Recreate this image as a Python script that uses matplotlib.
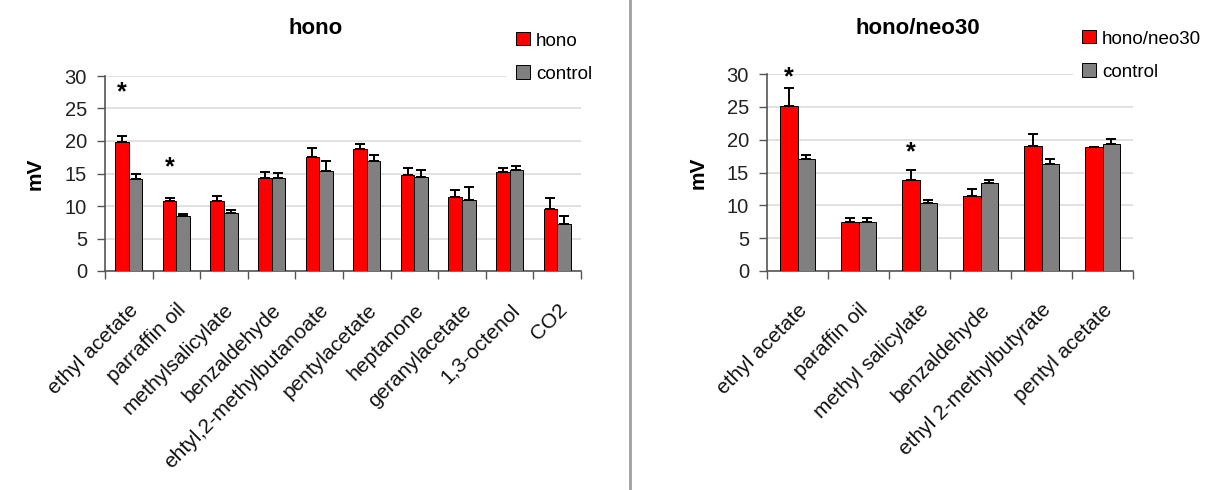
import matplotlib
matplotlib.use("Agg")
import matplotlib.pyplot as plt
import matplotlib.transforms as mtransforms
import numpy as np
from matplotlib.patches import Patch
from matplotlib.lines import Line2D

plt.rcParams['font.family'] = ['Liberation Sans', 'DejaVu Sans']

# Left panel: hono vs control
left_categories = ["ethyl acetate", "parraffin oil", "methylsalicylate", "benzaldehyde",
                   "ehtyl,2-methylbutanoate", "pentylacetate", "heptanone",
                   "geranylacetate", "1,3-octenol", "CO2"]
left_treat = [19.8, 10.8, 10.8, 14.3, 17.5, 18.7, 14.7, 11.4, 15.2, 9.5]
left_treat_err = [1.0, 0.5, 0.8, 1.0, 1.4, 0.9, 1.2, 1.1, 0.7, 1.8]
left_ctrl = [14.1, 8.4, 9.0, 14.3, 15.4, 17.0, 14.5, 11.0, 15.5, 7.2]
left_ctrl_err = [0.9, 0.4, 0.4, 0.8, 1.5, 0.8, 1.1, 1.9, 0.6, 1.3]
left_star_idx = [0, 1]
left_star_y = [27.5, 15.9]

# Right panel: hono/neo30 vs control
right_categories = ["ethyl acetate", "paraffin oil", "methyl salicylate", "benzaldehyde",
                    "ethyl 2-methylbutyrate", "pentyl acetate"]
right_treat = [25.2, 7.5, 13.8, 11.4, 19.1, 18.9]
right_treat_err = [2.6, 0.6, 1.6, 1.1, 1.7, 0.0]
right_ctrl = [17.0, 7.5, 10.3, 13.4, 16.3, 19.3]
right_ctrl_err = [0.6, 0.5, 0.5, 0.4, 0.8, 0.8]
right_star_idx = [0, 2]
right_star_y = [29.5, 18.0]

yticks = [0, 5, 10, 15, 20, 25, 30]

RED = "#ff0000"
GREY = "#808080"
AXIS = "#555555"
W, H = 1216, 490

fig = plt.figure(figsize=(W / 100, H / 100), dpi=100)


def px_rect(x0, x1, y_top, y_bottom):
    return [x0 / W, 1 - y_bottom / H, (x1 - x0) / W, (y_bottom - y_top) / H]


def panel(rect, cats, treat, terr, ctrl, cerr, star_idx, star_y, title, tlabel,
          title_x, leg_xy, label_dx):
    ax = fig.add_axes(rect)
    n = len(cats)
    x = np.arange(n)
    bw = 0.285
    ax.bar(x - bw / 2, treat, bw, color=RED, edgecolor="black", linewidth=0.7, zorder=3)
    ax.bar(x + bw / 2, ctrl, bw, color=GREY, edgecolor="black", linewidth=0.7, zorder=3)
    ax.errorbar(x - bw / 2, treat, yerr=[np.zeros(n), terr], fmt="none", ecolor="black",
                elinewidth=1.4, capsize=3.5, capthick=1.4, zorder=4)
    ax.errorbar(x + bw / 2, ctrl, yerr=[np.zeros(n), cerr], fmt="none", ecolor="black",
                elinewidth=1.4, capsize=3.5, capthick=1.4, zorder=4)
    for i, sy in zip(star_idx, star_y):
        ax.text(i - bw / 2, sy, "*", ha="center", va="center", fontsize=18, fontweight="bold")
    ax.set_xlim(-0.5, n - 0.5)
    ax.set_ylim(0, 30)
    ax.set_yticks(yticks)
    ax.set_yticklabels([str(v) for v in yticks], fontsize=14.5, color="#222222")
    ax.yaxis.grid(True, color="#dcdcdc", linewidth=1.2, zorder=0)
    ax.set_axisbelow(True)
    # category separators as major ticks, names on minor ticks at the centres
    ax.set_xticks(np.arange(n + 1) - 0.5)
    ax.set_xticklabels([])
    ax.set_xticks(x, minor=True)
    ax.set_xticklabels(cats, minor=True, rotation=45, ha="right", rotation_mode="anchor",
                       fontsize=15, color="#111111")
    offset = mtransforms.ScaledTranslation(label_dx / 100, 0, fig.dpi_scale_trans)
    for lab in ax.get_xticklabels(minor=True):
        lab.set_transform(lab.get_transform() + offset)
    ax.tick_params(axis="x", which="minor", length=0, pad=21)
    ax.tick_params(axis="x", which="major", length=6, color=AXIS, width=1, direction="out")
    ax.tick_params(axis="y", length=6, color=AXIS, width=1, pad=7)
    for s in ("top", "right"):
        ax.spines[s].set_visible(False)
    ax.spines["left"].set_color(AXIS)
    ax.spines["bottom"].set_color(AXIS)
    ax.spines["left"].set_linewidth(1.2)
    ax.spines["bottom"].set_linewidth(1.2)
    ax.set_ylabel("mV", fontsize=15, fontweight="bold", labelpad=14)
    fig.text(title_x / W, 1 - 28 / H, title, ha="center", va="center", fontsize=16,
             fontweight="bold")
    handles = [Patch(facecolor=RED, edgecolor="black", linewidth=0.7),
               Patch(facecolor=GREY, edgecolor="black", linewidth=0.7)]
    fig.legend(handles, [tlabel, "control"], loc="upper left",
               bbox_to_anchor=(leg_xy[0] / W, 1 - leg_xy[1] / H), frameon=True,
               facecolor="white", edgecolor="none", framealpha=1, fancybox=False,
               fontsize=13.5, handlelength=0.7, handleheight=0.7, handletextpad=0.35,
               labelspacing=0.85, borderaxespad=0, borderpad=0.5)
    return ax


panel(px_rect(105, 581, 76, 271), left_categories, left_treat, left_treat_err,
      left_ctrl, left_ctrl_err, left_star_idx, left_star_y, "hono", "hono",
      316, (507, 23), -6)
panel(px_rect(767, 1133, 74, 271), right_categories, right_treat, right_treat_err,
      right_ctrl, right_ctrl_err, right_star_idx, right_star_y, "hono/neo30", "hono/neo30",
      918, (1073, 21), -10)

# vertical separator between the panels
fig.add_artist(Line2D([630 / W, 630 / W], [0, 1], color="#a0a0a0", linewidth=2))

fig.savefig("out.png", dpi=100)
